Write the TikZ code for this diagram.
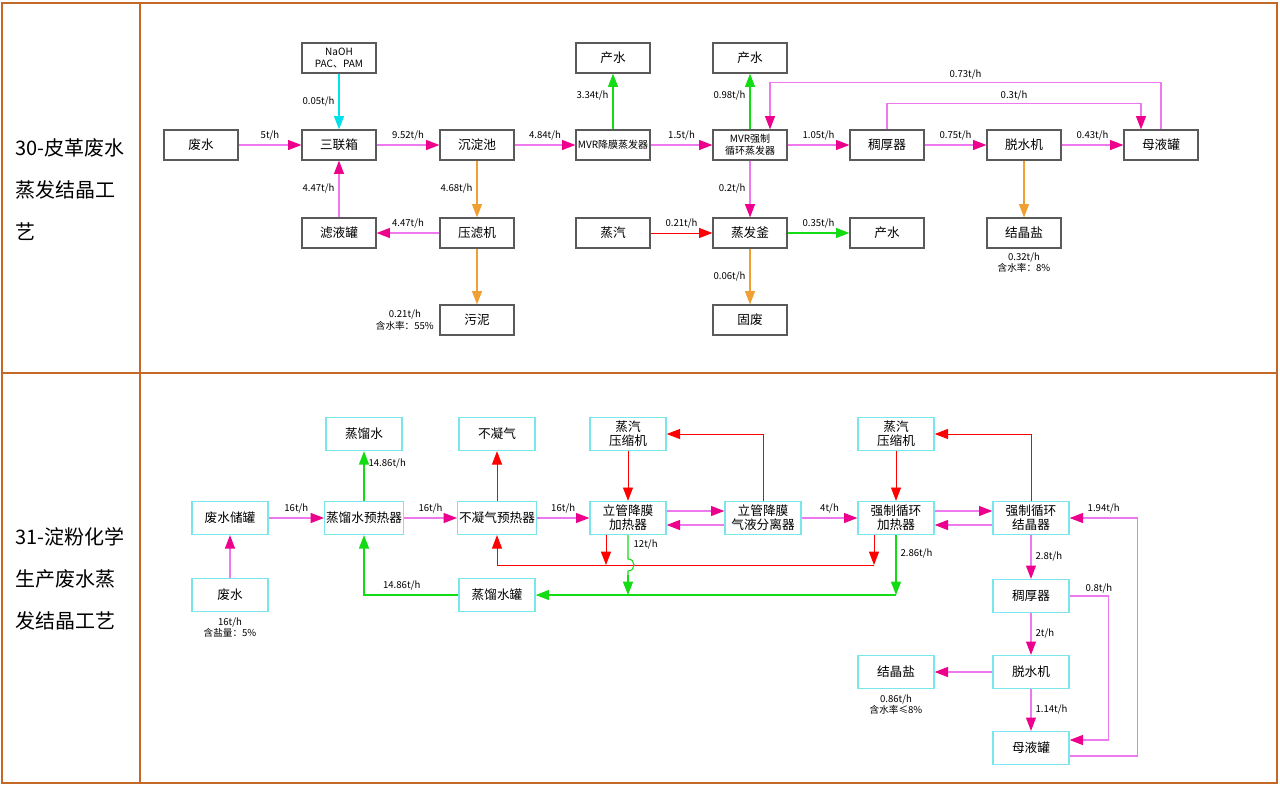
\documentclass[tikz,border=0pt]{standalone}
\usepackage{fontspec}
\setmainfont{Noto Sans CJK SC}
\usetikzlibrary{arrows.meta}
\definecolor{frame}{RGB}{196,104,40}
\definecolor{pk}{RGB}{238,120,238}
\definecolor{gr}{RGB}{20,220,20}
\definecolor{og}{RGB}{240,160,50}
\definecolor{cy}{RGB}{0,225,235}
\definecolor{bx}{RGB}{90,90,90}
\definecolor{cb}{RGB}{120,230,235}
\begin{document}
\begin{tikzpicture}[x=0.75pt,y=-0.75pt,
  b1/.style={draw=bx,line width=0.9pt,minimum width=55.5pt,minimum height=22.5pt,inner sep=1pt,align=center,font=\fontsize{9.5}{10.5}\selectfont},
  b2/.style={draw=cb,line width=1pt,minimum width=57pt,minimum height=24.75pt,inner sep=1pt,align=center,font=\fontsize{9.5}{10.5}\selectfont},
  lb/.style={font=\fontsize{7.2}{8.5}\selectfont,inner sep=1pt,align=center},
  P/.style={draw=pk,line width=0.8pt,-{Triangle[length=10pt,width=7.5pt,color=magenta]}},
  G/.style={draw=gr,line width=0.8pt,-{Triangle[length=10pt,width=7.5pt,color=gr]}},
  O/.style={draw=og,line width=0.8pt,-{Triangle[length=10pt,width=7.5pt,color=og]}},
  C/.style={draw=cy,line width=0.8pt,-{Triangle[length=10pt,width=7.5pt,color=cy]}},
  R/.style={draw=red,line width=0.7pt,-{Triangle[length=10pt,width=7.5pt,color=red]}},
  side/.style={font=\fontsize{15}{31.5}\selectfont,align=left}]
\useasboundingbox (0,0) rectangle (1280,786);
% frame
\draw[frame,line width=1.6pt] (2,3) rectangle (1277,783);
\draw[frame,line width=1.6pt] (140,3) -- (140,783) (2,373) -- (1277,373);
\node[side] (t30) at (70,190) {30-皮革废水\\蒸发结晶工\\艺};
\node[side] (t31) at (70,579) {31-淀粉化学\\生产废水蒸\\发结晶工艺};
% ===== top =====
\node[b1] (fs) at (201,145) {废水};
\node[b1,font=\fontsize{7.5}{9}\selectfont] (na) at (339,58) {NaOH\\PAC、PAM};
\node[b1] (sl) at (339,145) {三联箱};
\node[b1] (cd) at (477,145) {沉淀池};
\node[b1,font=\fontsize{7.5}{9}\selectfont] (mv1) at (613,145) {MVR降膜蒸发器};
\node[b1] (cs1) at (613,58) {产水};
\node[b1,font=\fontsize{7.5}{9}\selectfont] (mv2) at (750,145) {MVR强制\\循环蒸发器};
\node[b1] (cs2) at (750,58) {产水};
\node[b1] (ch) at (887,145) {稠厚器};
\node[b1] (ts) at (1024,145) {脱水机};
\node[b1] (my) at (1161,145) {母液罐};
\node[b1] (ly) at (339,233) {滤液罐};
\node[b1] (yl) at (477,233) {压滤机};
\node[b1] (wn) at (477,320) {污泥};
\node[b1] (zq) at (613,233) {蒸汽};
\node[b1] (zf) at (750,233) {蒸发釜};
\node[b1] (cs3) at (887,233) {产水};
\node[b1] (jj) at (1024,233) {结晶盐};
\node[b1] (gf) at (750,320) {固废};

\draw[P] (fs) -- node[lb,above=2pt]{5t/h} (sl);
\draw[C] (na) -- node[lb,left=2pt]{0.05t/h} (sl);
\draw[P] (sl) -- node[lb,above=2pt]{9.52t/h} (cd);
\draw[P] (cd) -- node[lb,above=2pt]{4.84t/h} (mv1);
\draw[G] (mv1) -- node[lb,left=2pt,pos=0.6]{3.34t/h} (cs1);
\draw[P] (mv1) -- node[lb,above=2pt]{1.5t/h} (mv2);
\draw[G] (mv2) -- node[lb,left=2pt,pos=0.6]{0.98t/h} (cs2);
\draw[P] (mv2) -- node[lb,above=2pt]{1.05t/h} (ch);
\draw[P] (ch) -- node[lb,above=2pt]{0.75t/h} (ts);
\draw[P] (ts) -- node[lb,above=2pt]{0.43t/h} (my);
\draw[O] (ts) -- (jj);
\draw[O] (cd) -- node[lb,left=2pt]{4.68t/h} (yl);
\draw[P] (yl) -- node[lb,above=2pt]{4.47t/h} (ly);
\draw[P] (ly) -- node[lb,left=2pt]{4.47t/h} (sl);
\draw[O] (yl) -- (wn);
\draw[P] (mv2) -- node[lb,left=2pt]{0.2t/h} (zf);
\draw[R] (zq) -- node[lb,above=2pt]{0.21t/h} (zf);
\draw[G] (zf) -- node[lb,above=2pt]{0.35t/h} (cs3);
\draw[O] (zf) -- node[lb,left=2pt]{0.06t/h} (gf);
\draw[P] (my.north) -- ++(0,-47) -| node[lb,above=1pt,pos=0.25]{0.73t/h} ([xshift=15pt]mv2.north);
\draw[P] (ch.north) -- ++(0,-26) -| node[lb,above=1pt,pos=0.25]{0.3t/h} ([xshift=-15pt]my.north);
\node[lb,left=3pt] (l55) at (wn.west) {0.21t/h\\含水率：55\%};
\node[lb,below=2pt] (l8) at (jj.south) {0.32t/h\\含水率：8\%};
% ===== bottom =====
\node[b2] (cg) at (230,518) {废水储罐};
\node[b2] (fs2) at (230,595) {废水};
\node[b2] (zl) at (364,434) {蒸馏水};
\node[b2] (yr) at (364,518) {蒸馏水预热器};
\node[b2] (bn) at (497,434) {不凝气};
\node[b2] (by) at (497,518) {不凝气预热器};
\node[b2] (ys1) at (628,434) {蒸汽\\压缩机};
\node[b2] (lg) at (628,518) {立管降膜\\加热器};
\node[b2] (fl) at (763,518) {立管降膜\\气液分离器};
\node[b2] (ys2) at (896,434) {蒸汽\\压缩机};
\node[b2] (qj) at (896,518) {强制循环\\加热器};
\node[b2] (qx) at (1031,518) {强制循环\\结晶器};
\node[b2] (zg) at (497,595) {蒸馏水罐};
\node[b2] (ch2) at (1031,596) {稠厚器};
\node[b2] (jj2) at (896,672) {结晶盐};
\node[b2] (ts2) at (1031,672) {脱水机};
\node[b2] (my2) at (1031,748) {母液罐};

\draw[P] (fs2) -- (cg);
\draw[P] (cg) -- node[lb,above=2pt]{16t/h} (yr);
\draw[G] (yr) -- node[lb,right=2pt,pos=0.75]{14.86t/h} (zl);
\draw[P] (yr) -- node[lb,above=2pt]{16t/h} (by);
\draw[R] (by) -- (bn);
\draw[P] (by) -- node[lb,above=2pt]{16t/h} (lg);
\draw[R] (ys1) -- (lg);
\draw[P] ([yshift=5.25pt]lg.east) -- ([yshift=5.25pt]fl.west);
\draw[P] ([yshift=-5.25pt]fl.west) -- ([yshift=-5.25pt]lg.east);
\draw[R] (fl.north) |- (ys1.east);
\draw[P] (fl) -- node[lb,above=2pt]{4t/h} (qj);
\draw[R] (ys2) -- (qj);
\draw[P] ([yshift=5.25pt]qj.east) -- ([yshift=5.25pt]qx.west);
\draw[P] ([yshift=-5.25pt]qx.west) -- ([yshift=-5.25pt]qj.east);
\draw[R] (qx.north) |- (ys2.east);
\draw[P] (qx) -- node[lb,right=2pt]{2.8t/h} (ch2);
\draw[P] (ch2) -- node[lb,right=2pt]{2t/h} (ts2);
\draw[P] (ts2) -- (jj2);
\draw[P] (ts2) -- node[lb,right=2pt]{1.14t/h} (my2);
\draw[P] (ch2.east) -- node[lb,above=1pt,pos=0.75]{0.8t/h} ++(39,0) |- ([yshift=6pt]my2.east);
\draw[P] ([yshift=-6pt]my2.east) -- ++(68,0) |- node[lb,above=2pt,pos=0.75]{1.94t/h} (qx.east);
% red return line
\coordinate (r1) at (606,565);
\coordinate (r2) at (874,565);
\draw[R] ([xshift=-16.5pt]lg.south) -- (r1);
\draw[R] ([xshift=-16.5pt]qj.south) -- (r2);
\draw[R] (r2) -| (by.south);
% green
\coordinate (g1) at (628,595);
\coordinate (g2) at (896,595);
\draw[draw=gr,line width=0.8pt] (lg.south) -- (628,559) .. controls (636,559) and (636,571) .. (628,571) -- (628,575);
\draw[G] (628,575) -- (g1);
\node[lb,right=3pt] at (628,545) {12t/h};
\draw[G] (qj.south) -- node[lb,right=2pt,pos=0.3]{2.86t/h} (g2);
\draw[G] (g2) -- (zg.east);
\draw[G] (zg.west) -| node[lb,above=2pt,pos=0.3]{14.86t/h} (yr.south);
\node[lb,below=3pt] (l5) at (fs2.south) {16t/h\\含盐量：5\%};
\node[lb,below=3pt] (l88) at (jj2.south) {0.86t/h\\含水率≤8\%};
\end{tikzpicture}
\end{document}
